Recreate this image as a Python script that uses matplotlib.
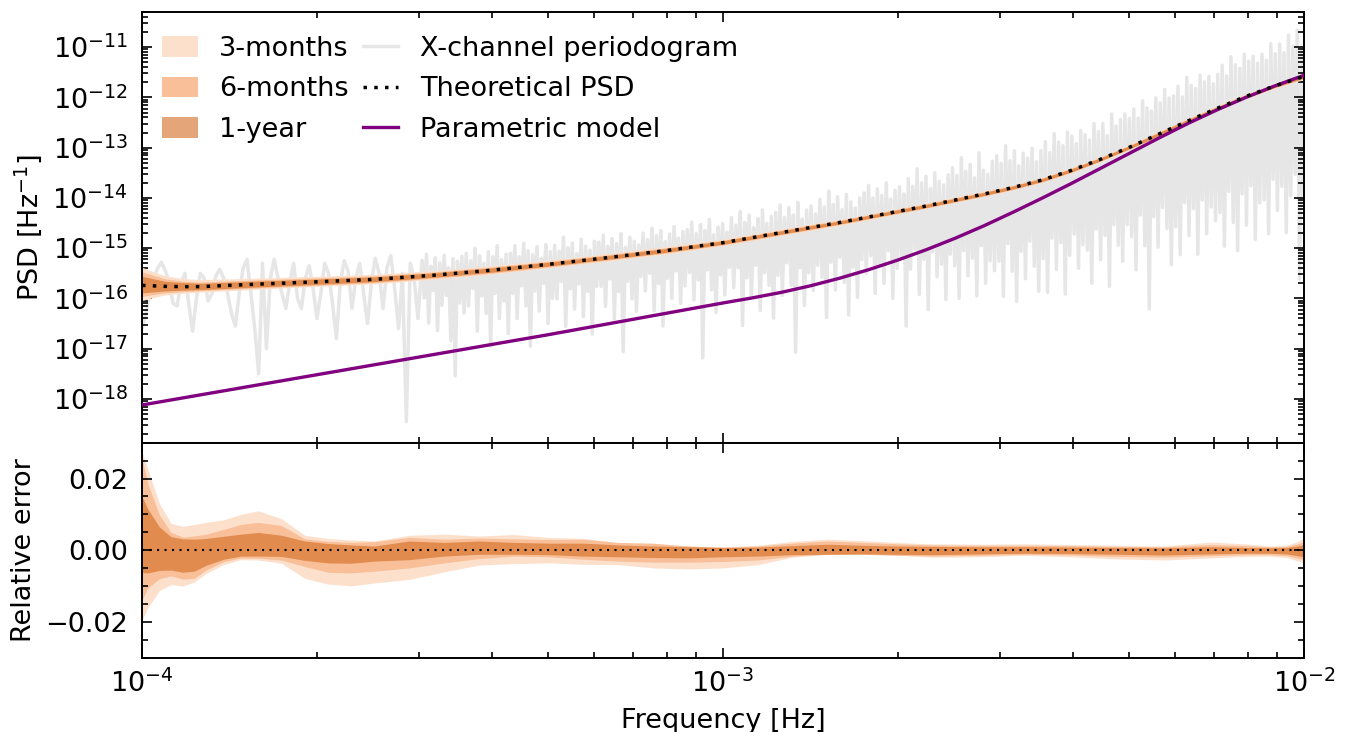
import numpy as np
import matplotlib.pyplot as plt
from matplotlib.patches import Patch
from matplotlib.lines import Line2D
from matplotlib.ticker import MultipleLocator, FixedLocator, LogLocator, NullFormatter

# --- smooth curves (log10 frequency / log10 PSD) ---
curve_logf = [-4.00, -3.98, -3.96, -3.93, -3.90, -3.80, -3.70, -3.60, -3.50, -3.40,
              -3.30, -3.20, -3.10, -3.00, -2.95, -2.90, -2.85, -2.80, -2.75, -2.70,
              -2.65, -2.60, -2.55, -2.50, -2.45, -2.40, -2.35, -2.30, -2.25, -2.20,
              -2.15, -2.10, -2.05, -2.00]
theory_logpsd = [-15.74, -15.75, -15.76, -15.765, -15.765, -15.715, -15.67, -15.62, -15.54, -15.44,
                 -15.32, -15.19, -15.05, -14.89, -14.79, -14.69, -14.59, -14.49, -14.38, -14.27,
                 -14.16, -14.04, -13.92, -13.79, -13.64, -13.45, -13.23, -12.99, -12.73, -12.47,
                 -12.22, -11.98, -11.77, -11.58]
param_logpsd = [-18.12, -18.08, -18.04, -17.98, -17.92, -17.72, -17.52, -17.32, -17.12, -16.92,
                -16.72, -16.51, -16.30, -16.09, -15.99, -15.88, -15.75, -15.60, -15.43, -15.24,
                -15.03, -14.80, -14.55, -14.28, -14.00, -13.71, -13.41, -13.11, -12.81, -12.52,
                -12.25, -12.00, -11.77, -11.56]

# credible band around the theoretical PSD (decades above / below)
top3_up = [0.36, 0.28, 0.21, 0.16, 0.14, 0.12, 0.11, 0.10, 0.09, 0.09, 0.08, 0.08, 0.08,
           0.07, 0.07, 0.07, 0.07, 0.06, 0.06, 0.06, 0.06, 0.06, 0.06, 0.05, 0.05, 0.05,
           0.05, 0.05, 0.05, 0.05, 0.05, 0.05, 0.05, 0.06]
top3_dn = [0.30, 0.23, 0.17, 0.13, 0.11, 0.10, 0.09, 0.09, 0.08, 0.08, 0.07, 0.07, 0.07,
           0.06, 0.06, 0.06, 0.06, 0.06, 0.06, 0.05, 0.05, 0.05, 0.05, 0.05, 0.05, 0.05,
           0.05, 0.05, 0.05, 0.05, 0.05, 0.05, 0.05, 0.06]
top6_up = [0.27, 0.21, 0.15, 0.11, 0.09, 0.085, 0.08, 0.07, 0.065, 0.065, 0.06, 0.06, 0.055,
           0.05, 0.05, 0.05, 0.05, 0.045, 0.045, 0.045, 0.045, 0.045, 0.04, 0.04, 0.04, 0.04,
           0.04, 0.04, 0.04, 0.04, 0.04, 0.04, 0.04, 0.045]
top6_dn = [0.22, 0.17, 0.13, 0.10, 0.08, 0.075, 0.07, 0.065, 0.06, 0.06, 0.055, 0.05, 0.05,
           0.045, 0.045, 0.045, 0.045, 0.04, 0.04, 0.04, 0.04, 0.04, 0.04, 0.04, 0.04, 0.04,
           0.035, 0.035, 0.035, 0.035, 0.035, 0.035, 0.035, 0.045]
top1_up = [0.18, 0.14, 0.10, 0.08, 0.065, 0.06, 0.055, 0.05, 0.045, 0.045, 0.04, 0.04, 0.04,
           0.035, 0.035, 0.035, 0.035, 0.03, 0.03, 0.03, 0.03, 0.03, 0.03, 0.03, 0.03, 0.03,
           0.03, 0.03, 0.03, 0.03, 0.03, 0.03, 0.03, 0.035]
top1_dn = [0.15, 0.12, 0.09, 0.07, 0.06, 0.055, 0.05, 0.045, 0.04, 0.04, 0.035, 0.035, 0.035,
           0.03, 0.03, 0.03, 0.03, 0.03, 0.03, 0.03, 0.03, 0.03, 0.03, 0.03, 0.03, 0.03,
           0.03, 0.03, 0.03, 0.03, 0.03, 0.03, 0.03, 0.035]

# --- relative error bands (bottom panel) ---
err_logf = [-4.00, -3.99, -3.97, -3.95, -3.93, -3.91, -3.89, -3.86, -3.83, -3.80,
            -3.76, -3.72, -3.68, -3.64, -3.60, -3.54, -3.48, -3.42, -3.36, -3.30,
            -3.24, -3.18, -3.12, -3.06, -3.00, -2.94, -2.88, -2.82, -2.76, -2.70,
            -2.64, -2.56, -2.48, -2.40, -2.32, -2.24, -2.16, -2.10, -2.06, -2.03,
            -2.01, -2.00]
err3_hi = [0.0275, 0.0225, 0.0130, 0.0075, 0.0067, 0.0072, 0.0078, 0.0085, 0.0100, 0.0110,
           0.0088, 0.0042, 0.0033, 0.0029, 0.0026, 0.0042, 0.0045, 0.0040, 0.0044, 0.0036,
           0.0033, 0.0021, 0.0016, 0.0012, 0.0010, 0.0014, 0.0025, 0.0031, 0.0027, 0.0022,
           0.0018, 0.0017, 0.0018, 0.0016, 0.0014, 0.0012, 0.0023, 0.0018, 0.0012, 0.0014,
           0.0025, 0.0035]
err3_lo = [-0.0194, -0.0160, -0.0112, -0.0095, -0.0100, -0.0088, -0.0065, -0.0040, -0.0026, -0.0027,
           -0.0036, -0.0078, -0.0094, -0.0099, -0.0091, -0.0081, -0.0060, -0.0041, -0.0037, -0.0035,
           -0.0039, -0.0040, -0.0049, -0.0052, -0.0049, -0.0040, -0.0019, -0.0011, -0.0010, -0.0013,
           -0.0019, -0.0018, -0.0014, -0.0018, -0.0024, -0.0027, -0.0021, -0.0017, -0.0016, -0.0020,
           -0.0030, -0.0035]
err6_hi = [0.0256, 0.0185, 0.0098, 0.0050, 0.0037, 0.0040, 0.0045, 0.0058, 0.0072, 0.0078,
           0.0069, 0.0032, 0.0025, 0.0022, 0.0024, 0.0036, 0.0031, 0.0034, 0.0032, 0.0030,
           0.0031, 0.0022, 0.0020, 0.0012, 0.0008, 0.0012, 0.0020, 0.0026, 0.0022, 0.0018,
           0.0015, 0.0014, 0.0014, 0.0013, 0.0011, 0.0010, 0.0016, 0.0013, 0.0010, 0.0011,
           0.0018, 0.0025]
err6_lo = [-0.0138, -0.0105, -0.0079, -0.0071, -0.0080, -0.0078, -0.0055, -0.0032, -0.0021, -0.0022,
           -0.0027, -0.0045, -0.0061, -0.0063, -0.0058, -0.0049, -0.0035, -0.0023, -0.0016, -0.0018,
           -0.0025, -0.0030, -0.0033, -0.0033, -0.0031, -0.0027, -0.0016, -0.0011, -0.0011, -0.0014,
           -0.0016, -0.0014, -0.0011, -0.0013, -0.0017, -0.0019, -0.0015, -0.0012, -0.0012, -0.0015,
           -0.0022, -0.0026]
err1_hi = [0.0150, 0.0115, 0.0065, 0.0038, 0.0032, 0.0031, 0.0033, 0.0039, 0.0045, 0.0050,
           0.0042, 0.0026, 0.0019, 0.0015, 0.0012, 0.0026, 0.0022, 0.0026, 0.0022, 0.0020,
           0.0020, 0.0015, 0.0012, 0.0010, 0.0008, 0.0009, 0.0013, 0.0017, 0.0014, 0.0012,
           0.0011, 0.0010, 0.0010, 0.0009, 0.0008, 0.0007, 0.0010, 0.0008, 0.0007, 0.0008,
           0.0012, 0.0016]
err1_lo = [-0.0062, -0.0063, -0.0056, -0.0055, -0.0061, -0.0058, -0.0042, -0.0025, -0.0016, -0.0016,
           -0.0017, -0.0028, -0.0035, -0.0036, -0.0030, -0.0026, -0.0016, -0.0011, -0.0011, -0.0012,
           -0.0016, -0.0018, -0.0020, -0.0021, -0.0018, -0.0016, -0.0012, -0.0011, -0.0010, -0.0011,
           -0.0012, -0.0010, -0.0008, -0.0009, -0.0011, -0.0013, -0.0010, -0.0008, -0.0008, -0.0010,
           -0.0015, -0.0018]

# --- X-channel periodogram, log10 PSD ---
# low band: 72 log-spaced points 1e-4 .. 10**-3.525 Hz
pgram_low = [
    -16.60, -16.30, -15.90, -15.60, -15.40, -15.28, -15.45, -15.70, -16.10, -16.15,
    -15.70, -15.50, -16.10, -16.65, -16.00, -15.50, -15.60, -16.05, -15.90, -15.55,
    -15.42, -15.60, -15.90, -16.30, -16.55, -15.90, -15.40, -15.22, -15.90, -16.60,
    -17.50, -15.30, -17.00, -15.60, -15.22, -15.60, -15.90, -16.20, -15.70, -15.30,
    -16.00, -16.20, -15.60, -15.35, -15.80, -16.40, -15.90, -15.30, -15.50, -16.10,
    -16.80, -15.70, -15.25, -15.45, -16.20, -15.60, -15.30, -15.90, -16.50, -15.70,
    -15.20, -15.50, -16.20, -15.40, -15.15, -15.80, -16.60, -15.50, -18.45, -15.30,
    -15.60, -16.40,
]
# high band: 400 log-spaced points 10**-3.518 .. 1e-2 Hz
pgram_high = [
    -15.24, -15.99, -15.12, -16.49, -15.36, -15.84, -15.19, -16.64, -15.29, -16.14,
    -15.14, -15.94, -15.39, -16.84, -15.21, -17.54, -15.26, -16.09, -15.16, -16.29,
    -15.10, -16.15, -15.25, -15.80, -15.00, -16.65, -15.15, -15.95, -15.30, -16.30,
    -15.07, -16.95, -15.17, -15.90, -14.95, -16.40, -15.23, -16.05, -15.12, -16.70,
    -15.10, -15.90, -14.95, -16.40, -15.17, -15.75, -14.90, -16.15, -15.05, -16.95,
    -15.13, -15.85, -14.97, -16.25, -15.20, -15.70, -14.93, -16.50, -15.07, -16.00,
    -14.94, -16.01, -15.06, -15.66, -14.78, -16.56, -14.99, -15.81, -14.90, -16.21,
    -15.11, -15.71, -14.82, -16.36, -14.96, -15.86, -15.04, -16.71, -14.86, -15.76,
    -14.88, -15.76, -14.74, -16.16, -14.96, -15.61, -14.81, -16.41, -14.91, -15.86,
    -14.71, -17.06, -14.98, -15.66, -14.78, -16.01, -14.86, -16.26, -14.94, -15.56,
    -14.70, -15.85, -14.83, -15.50, -14.60, -16.25, -14.75, -15.70, -14.65, -16.55,
    -14.87, -15.60, -14.72, -16.00, -14.57, -15.45, -14.80, -16.10, -14.67, -15.75,
    -14.63, -15.48, -14.48, -16.03, -14.71, -15.63, -14.53, -17.18, -14.65, -15.43,
    -14.43, -15.83, -14.73, -16.28, -14.58, -15.53, -14.51, -15.93, -14.68, -15.38,
    -14.39, -15.79, -14.54, -15.39, -14.27, -16.54, -14.49, -15.59, -14.34, -15.99,
    -14.59, -15.34, -14.41, -16.24, -14.24, -15.49, -14.51, -15.74, -14.37, -16.39,
    -14.29, -15.54, -14.14, -15.94, -14.39, -15.29, -14.19, -15.74, -14.34, -17.07,
    -14.09, -15.39, -14.42, -16.14, -14.24, -15.49, -14.16, -15.84, -14.32, -15.34,
    -14.03, -15.58, -14.18, -16.38, -13.86, -15.28, -14.13, -15.83, -13.98, -15.18,
    -14.23, -15.68, -13.93, -16.33, -14.08, -15.38, -14.20, -15.98, -14.00, -15.23,
    -13.90, -15.50, -13.75, -15.15, -14.00, -15.90, -13.82, -15.30, -13.95, -15.70,
    -13.70, -15.05, -14.02, -16.00, -13.85, -15.40, -13.78, -15.20, -13.92, -16.55,
    -13.62, -15.42, -13.77, -15.02, -13.42, -15.92, -13.70, -15.22, -13.57, -16.22,
    -13.82, -15.07, -13.50, -15.57, -13.67, -15.32, -13.74, -16.02, -13.54, -15.12,
    -13.40, -15.35, -13.55, -16.00, -13.20, -15.05, -13.47, -15.55, -13.33, -15.20,
    -13.60, -15.95, -13.10, -14.95, -13.45, -15.70, -13.53, -15.25, -13.27, -15.45,
    -13.16, -15.26, -13.31, -15.96, -12.96, -14.91, -13.26, -15.46, -13.06, -16.06,
    -13.36, -15.06, -13.11, -15.61, -13.21, -14.86, -13.01, -15.36, -13.28, -15.86,
    -13.06, -15.21, -12.88, -15.88, -13.10, -14.80, -12.72, -15.42, -12.89, -14.89,
    -12.96, -15.91, -12.69, -15.14, -12.77, -14.72, -12.92, -15.40, -12.66, -14.93,
    -12.74, -15.04, -12.85, -15.70, -12.52, -14.62, -12.68, -15.23, -12.52, -14.75,
    -12.76, -15.76, -12.33, -14.53, -12.57, -14.94, -12.44, -15.26, -12.33, -14.53,
    -12.42, -14.77, -12.23, -15.43, -12.41, -14.34, -12.07, -14.95, -12.21, -16.21,
    -12.27, -14.37, -12.01, -14.98, -12.11, -14.19, -11.84, -14.61, -12.01, -15.33,
    -11.97, -14.57, -11.78, -15.13, -11.99, -14.09, -11.60, -14.75, -11.76, -14.21,
    -11.82, -15.12, -11.56, -14.04, -11.69, -14.71, -11.58, -14.18, -11.73, -14.45,
    -11.54, -14.29, -11.36, -14.96, -11.57, -13.87, -11.19, -14.49, -11.35, -15.05,
    -11.42, -13.92, -11.14, -14.54, -11.28, -13.76, -11.18, -14.83, -11.32, -14.10,
    -11.14, -14.04, -11.26, -14.71, -10.93, -13.63, -11.13, -14.25, -10.94, -13.77,
    -11.11, -14.69, -10.76, -13.96, -10.98, -13.53, -10.66, -15.61, -11.08, -13.98,
]

labels = ["3-months", "6-months", "1-year"]
band_colors = ["#fde0cc", "#f8bf98", "#d2691e"]
band_alpha = [1.0, 1.0, 0.6]

psd_ticks = [1e-18, 1e-17, 1e-16, 1e-15, 1e-14, 1e-13, 1e-12, 1e-11]
err_ticks = [-0.02, 0.0, 0.02]

plt.rcParams["font.family"] = ["DejaVu Sans"]
plt.rcParams["font.size"] = 19.5
plt.rcParams["axes.linewidth"] = 1.4

f_curve = 10.0 ** np.array(curve_logf)
theory = 10.0 ** np.array(theory_logpsd)
param = 10.0 ** np.array(param_logpsd)
f_err = 10.0 ** np.array(err_logf)
f_pg = np.concatenate([np.geomspace(1e-4, 10 ** -3.525, len(pgram_low)),
                       np.geomspace(10 ** -3.518, 1e-2, len(pgram_high))])
pgram = 10.0 ** np.array(pgram_low + pgram_high)

top_bands = [(top3_up, top3_dn), (top6_up, top6_dn), (top1_up, top1_dn)]
err_bands = [(err3_hi, err3_lo), (err6_hi, err6_lo), (err1_hi, err1_lo)]

fig, (ax1, ax2) = plt.subplots(2, 1, sharex=True, figsize=(13.49, 7.32), dpi=100,
                               gridspec_kw={"height_ratios": [2, 1], "hspace": 0})
fig.subplots_adjust(left=0.1053, right=0.9666, top=0.9836, bottom=0.1011)

# --- top panel ---
ax1.plot(f_pg, pgram, color="#e6e6e6", lw=2.5, zorder=1)
for (up, dn), c, a in zip(top_bands, band_colors, band_alpha):
    lo = np.array(theory_logpsd) - np.array(dn)
    hi = np.array(theory_logpsd) + np.array(up)
    ax1.fill_between(f_curve, 10.0 ** lo, 10.0 ** hi, color=c, alpha=a, lw=0, zorder=2)
ax1.plot(f_curve, theory, color="black", lw=2.5, ls=(0, (1, 2.1)), zorder=4)
ax1.plot(f_curve, param, color="purple", lw=2.4, zorder=3)

ax1.set_xscale("log")
ax1.set_yscale("log")
ax1.set_xlim(1e-4, 1e-2)
ax1.set_ylim(10 ** -18.87, 10 ** -10.3)
ax1.yaxis.set_major_locator(FixedLocator(psd_ticks))
ax1.yaxis.set_minor_locator(LogLocator(base=10, subs=np.arange(2, 10), numticks=100))
ax1.yaxis.set_minor_formatter(NullFormatter())
ax1.set_ylabel(r"PSD [Hz$^{-1}$]")
ax1.yaxis.set_label_coords(-0.084, 0.5)

handles = [Patch(facecolor=c, alpha=a, lw=0) for c, a in zip(band_colors, band_alpha)]
handles += [Line2D([], [], color="#e6e6e6", lw=2.5),
            Line2D([], [], color="black", lw=2.5, ls=(0, (1, 2.1))),
            Line2D([], [], color="purple", lw=2.4)]
names = labels + ["X-channel periodogram", "Theoretical PSD", "Parametric model"]
ax1.legend(handles, names, loc="upper left", bbox_to_anchor=(-0.0034, 1.001), ncol=2,
           frameon=False, fontsize=19.5, handlelength=1.3, handleheight=0.8,
           handletextpad=0.8, labelspacing=0.535, columnspacing=0.52)

# --- bottom panel ---
for (hi, lo), c, a in zip(err_bands, band_colors, band_alpha):
    ax2.fill_between(f_err, lo, hi, color=c, alpha=a, lw=0)
ax2.axhline(0.0, color="black", lw=1.5, ls=(0, (1, 2.6)))
ax2.set_ylim(-0.03, 0.03)
ax2.yaxis.set_major_locator(FixedLocator(err_ticks))
ax2.yaxis.set_minor_locator(MultipleLocator(0.005))
ax2.set_ylabel("Relative error")
ax2.yaxis.set_label_coords(-0.090, 0.5)
ax2.set_xlabel("Frequency [Hz]")
ax2.xaxis.set_label_coords(0.5, -0.232)
ax2.xaxis.set_major_locator(FixedLocator([1e-4, 1e-3, 1e-2]))
ax2.xaxis.set_minor_locator(LogLocator(base=10, subs=np.arange(2, 10), numticks=100))
ax2.xaxis.set_minor_formatter(NullFormatter())

for ax in (ax1, ax2):
    ax.tick_params(which="both", direction="in", top=True, right=True, width=1.2)
    ax.tick_params(which="major", length=7)
    ax.tick_params(which="minor", length=4)
    ax.tick_params(axis="y", which="major", pad=10)
    ax.tick_params(axis="x", which="major", pad=8)

fig.savefig("out.png", dpi=100)
